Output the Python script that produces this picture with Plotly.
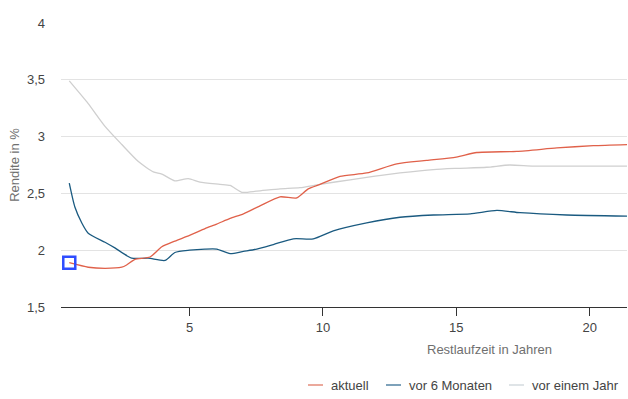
import plotly.graph_objects as go

# Restlaufzeit (years) and yields (%)
x_aktuell = [0.49, 1.2, 1.83, 2.46, 2.64, 2.95, 3.52, 3.96, 4.45, 5.0, 5.58, 6.02, 6.52, 7.02,
             7.64, 8.39, 9.02, 9.45, 9.89, 10.64, 11.64, 12.77, 13.89, 15.0, 15.77, 17.27,
             18.77, 20.14, 21.4]
y_aktuell = [1.89, 1.85, 1.84, 1.85, 1.87, 1.92, 1.94, 2.03, 2.08, 2.13, 2.19, 2.23, 2.28, 2.32,
             2.39, 2.47, 2.46, 2.54, 2.58, 2.65, 2.68, 2.76, 2.79, 2.82, 2.86, 2.87,
             2.90, 2.92, 2.93]

x_6m = [0.49, 0.70, 0.96, 1.2, 1.83, 2.2, 2.83, 3.45, 4.08, 4.45, 5.0, 5.58, 6.02, 6.52, 7.02,
        7.52, 8.14, 8.89, 9.64, 10.39, 11.64, 12.89, 14.14, 15.52, 16.52, 17.39, 19.14, 21.4]
y_6m = [2.59, 2.38, 2.24, 2.15, 2.07, 2.02, 1.93, 1.93, 1.91, 1.98, 2.00, 2.01, 2.01, 1.97, 1.99,
        2.01, 2.05, 2.10, 2.10, 2.17, 2.24, 2.29, 2.31, 2.32, 2.35, 2.33, 2.31, 2.30]

x_1j = [0.49, 1.2, 1.83, 2.46, 3.08, 3.64, 3.96, 4.45, 4.95, 5.39, 6.14, 6.52, 6.96, 7.52, 8.39,
        9.14, 9.89, 11.02, 11.89, 12.89, 14.14, 15.0, 16.14, 17.0, 17.9, 19.9, 21.4]
y_1j = [3.49, 3.29, 3.09, 2.93, 2.78, 2.69, 2.67, 2.61, 2.63, 2.60, 2.58, 2.57, 2.51, 2.52, 2.54,
        2.55, 2.58, 2.62, 2.65, 2.68, 2.71, 2.72, 2.73, 2.75, 2.74, 2.74, 2.74]

series_names = ["aktuell", "vor 6 Monaten", "vor einem Jahr"]
series_colors = ["#e0614a", "#1a5a80", "#cfcfcf"]
legend_colors = ["#eba99c", "#7ea2ba", "#dfe4e7"]

x_ticks = [5, 10, 15, 20]
y_ticks = [1.5, 2, 2.5, 3, 3.5, 4]

FONT = "Liberation Sans, Arial, sans-serif"

fig = go.Figure()
for xs, ys, name, col in [(x_1j, y_1j, series_names[2], series_colors[2]),
                          (x_6m, y_6m, series_names[1], series_colors[1]),
                          (x_aktuell, y_aktuell, series_names[0], series_colors[0])]:
    fig.add_trace(go.Scatter(x=xs, y=ys, mode="lines", name=name,
                             line=dict(color=col, width=1.3, shape="spline", smoothing=0.6),
                             showlegend=False, hoverinfo="skip"))

# focus marker on first point of "aktuell"
fig.add_trace(go.Scatter(x=[x_aktuell[0]], y=[y_aktuell[0]], mode="markers",
                         marker=dict(symbol="square-open", size=12, color="#2f4dff",
                                     line=dict(width=2.5, color="#2f4dff")),
                         showlegend=False, hoverinfo="skip"))

# custom legend
legend_x_line = [308, 386, 509]
legend_x_text = [329, 407, 530]
W, H = 628, 399
ml, mr, mt, mb = 61, 1, 23, 92
pw, ph = W - ml - mr, H - mt - mb
def px_to_paper_x(p):
    return (p - ml) / pw
def py_to_paper_y(p):
    return (H - mb - p) / ph

shapes = []
annotations = []
for i in range(3):
    shapes.append(dict(type="line", xref="paper", yref="paper",
                       x0=px_to_paper_x(legend_x_line[i]), x1=px_to_paper_x(legend_x_line[i] + 15),
                       y0=py_to_paper_y(385), y1=py_to_paper_y(385),
                       line=dict(color=legend_colors[i], width=2)))
    annotations.append(dict(xref="paper", yref="paper", x=px_to_paper_x(legend_x_text[i]),
                            y=py_to_paper_y(385), text=series_names[i], showarrow=False,
                            xanchor="left", yanchor="middle",
                            font=dict(family=FONT, size=13, color="#444444")))

annotations.append(dict(xref="paper", yref="paper", x=px_to_paper_x(490), y=py_to_paper_y(349),
                        text="Restlaufzeit in Jahren", showarrow=False, xanchor="center",
                        yanchor="middle", font=dict(family=FONT, size=13, color="#6f6f6f")))

fig.update_layout(
    width=W, height=H,
    margin=dict(l=ml, r=mr, t=mt, b=mb, pad=0),
    paper_bgcolor="white", plot_bgcolor="white",
    separators=",.",
    font=dict(family=FONT, size=13, color="#444444"),
    shapes=shapes, annotations=annotations,
    showlegend=False,
    xaxis=dict(range=[0.18, 21.4], tickvals=x_ticks, ticks="outside", ticklen=8, tickwidth=1,
               tickcolor="#333333", showline=True, linecolor="#333333", linewidth=1,
               showgrid=False, zeroline=False, tickfont=dict(size=13, color="#444444")),
    yaxis=dict(range=[1.5, 4], tickvals=y_ticks, ticktext=["1,5", "2", "2,5", "3", "3,5", "4"],
               showgrid=True, gridcolor="#e3e3e3", gridwidth=1, zeroline=False, showline=False,
               ticks="", ticklabelstandoff=15, tickfont=dict(size=13, color="#444444"),
               title=dict(text="Rendite in %", standoff=4,
                          font=dict(size=13, color="#6f6f6f"))),
)

fig.write_html("out.html", config={"displayModeBar": False},
               post_script="document.body.style.margin='0';document.body.style.padding='0';")
